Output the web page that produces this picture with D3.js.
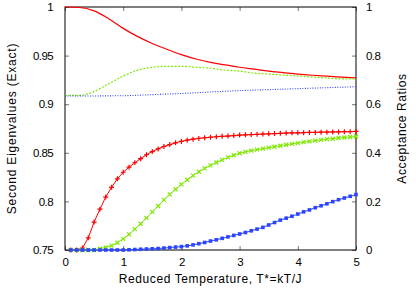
<!DOCTYPE html>
<html>
<head>
<meta charset="utf-8">
<script src="https://cdn.jsdelivr.net/npm/d3@7"></script>
<style>
  body { margin: 0; background: #fff; }
  text { font-family: "Liberation Sans", Arial, sans-serif; fill: #000; }
</style>
</head>
<body>
<div id="chart"></div>
<script>
// Exact second eigenvalues (left axis), sampled every 0.25 in T*
const exactT = [0, 0.25, 0.5, 0.75, 1, 1.25, 1.5, 1.75, 2, 2.25, 2.5, 2.75, 3, 3.25, 3.5, 3.75, 4, 4.25, 4.5, 4.75, 5];
const exactRed = [1.0, 0.9995, 0.996, 0.988, 0.978, 0.9695, 0.9625, 0.9565, 0.951, 0.9465, 0.943, 0.9405, 0.938, 0.936, 0.934, 0.9325, 0.931, 0.9298, 0.9288, 0.9279, 0.927];
const exactGreen = [0.909, 0.909, 0.913, 0.921, 0.929, 0.935, 0.938, 0.939, 0.939, 0.938, 0.937, 0.935, 0.934, 0.932, 0.931, 0.930, 0.929, 0.928, 0.927, 0.926, 0.926];
const exactBlue = [0.9085, 0.9085, 0.9085, 0.9086, 0.9087, 0.9092, 0.9098, 0.9104, 0.911, 0.9118, 0.9126, 0.9133, 0.914, 0.9145, 0.915, 0.9155, 0.916, 0.9165, 0.917, 0.9175, 0.918];

// Acceptance ratios (right axis), sampled every 0.1 in T*
const accT = d3.range(1, 51).map(i => i / 10);
const accRed = [0, 0, 0.008, 0.05, 0.115, 0.168, 0.218, 0.258, 0.293, 0.32,
  0.341, 0.359, 0.376, 0.392, 0.405, 0.416, 0.426, 0.434, 0.441, 0.447,
  0.452, 0.456, 0.459, 0.462, 0.464, 0.466, 0.468, 0.469, 0.471, 0.473,
  0.474, 0.475, 0.476, 0.477, 0.478, 0.479, 0.48, 0.481, 0.482, 0.482,
  0.483, 0.484, 0.484, 0.485, 0.485, 0.486, 0.486, 0.487, 0.487, 0.488];
const accGreen = [0, 0, 0, 0, 0, 0.005, 0.011, 0.018, 0.03, 0.046,
  0.064, 0.086, 0.108, 0.132, 0.157, 0.181, 0.206, 0.229, 0.25, 0.27,
  0.289, 0.306, 0.322, 0.336, 0.348, 0.36, 0.371, 0.381, 0.39, 0.398,
  0.404, 0.409, 0.413, 0.417, 0.421, 0.425, 0.429, 0.433, 0.437, 0.44,
  0.444, 0.447, 0.45, 0.453, 0.456, 0.458, 0.461, 0.463, 0.465, 0.467];
const accBlue = [0, 0, 0, 0, 0, 0, 0, 0, 0, 0,
  0.001, 0.002, 0.003, 0.004, 0.005, 0.006, 0.008, 0.01, 0.012, 0.014,
  0.017, 0.021, 0.026, 0.031, 0.037, 0.042, 0.048, 0.054, 0.06, 0.066,
  0.072, 0.079, 0.086, 0.093, 0.103, 0.113, 0.123, 0.131, 0.139, 0.148,
  0.157, 0.165, 0.174, 0.182, 0.19, 0.199, 0.207, 0.214, 0.221, 0.228];

// Tick labels
const xTicks = [0, 1, 2, 3, 4, 5];
const yTicks = [0.75, 0.8, 0.85, 0.9, 0.95, 1];
const y2Ticks = [0, 0.2, 0.4, 0.6, 0.8, 1];

const red = "#ff0000", green = "#7ee800", blue = "#2a44ff";

// Size and margins
const W = 416, H = 292;
const margin = { top: 7, right: 60, bottom: 42, left: 65 };
const width = W - margin.left - margin.right;
const height = H - margin.top - margin.bottom;

const svg = d3.select("#chart").append("svg")
    .attr("width", W)
    .attr("height", H);

const g = svg.append("g")
    .attr("transform", "translate(" + margin.left + "," + margin.top + ")");

// Scales
const x = d3.scaleLinear().domain([0, 5]).range([0, width]);
const y = d3.scaleLinear().domain([0.75, 1]).range([height, 0]);
const y2 = d3.scaleLinear().domain([0, 1]).range([height, 0]);

// Axes with inward ticks
const tickLen = 4;
function styleAxis(sel) {
    sel.select(".domain").remove();
    sel.selectAll(".tick line").attr("stroke", "#777");
    sel.selectAll(".tick text").style("font-size", "11.5px")
        .style("letter-spacing", "-0.6px")
        .style("font-family", "'Liberation Sans', Arial, sans-serif");
}

g.append("g")
    .attr("transform", "translate(0," + height + ")")
    .call(d3.axisBottom(x).tickValues(xTicks).tickSizeInner(-tickLen).tickSizeOuter(0).tickPadding(8).tickFormat(d3.format("d")))
    .call(styleAxis);

g.append("g")
    .call(d3.axisTop(x).tickValues(xTicks).tickSizeInner(-tickLen).tickSizeOuter(0).tickFormat(""))
    .call(styleAxis);

g.append("g")
    .call(d3.axisLeft(y).tickValues(yTicks).tickSizeInner(-tickLen).tickSizeOuter(0).tickPadding(12).tickFormat(d => d3.format("")(+d.toFixed(2))))
    .call(styleAxis);

g.append("g")
    .attr("transform", "translate(" + width + ",0)")
    .call(d3.axisRight(y2).tickValues(y2Ticks).tickSizeInner(-tickLen).tickSizeOuter(0).tickPadding(10).tickFormat(d => d3.format("")(+d.toFixed(1))))
    .call(styleAxis);

// Frame
g.append("rect")
    .attr("width", width)
    .attr("height", height)
    .attr("fill", "none")
    .attr("stroke", "#000")
    .attr("stroke-width", 1);

// Exact eigenvalue curves
const exactLine = vals => d3.line()
    .x((d, i) => x(exactT[i]))
    .y(d => y(d))
    .curve(d3.curveMonotoneX)(vals);

g.append("path").attr("d", exactLine(exactRed))
    .attr("fill", "none").attr("stroke", red).attr("stroke-width", 1.2);
g.append("path").attr("d", exactLine(exactGreen))
    .attr("fill", "none").attr("stroke", green).attr("stroke-width", 1.2)
    .attr("stroke-dasharray", "2,1.5");
g.append("path").attr("d", exactLine(exactBlue))
    .attr("fill", "none").attr("stroke", blue).attr("stroke-width", 1.1)
    .attr("stroke-dasharray", "1,1.5");

// Acceptance ratio series
const accLine = d3.line()
    .x(d => x(d[0]))
    .y(d => y2(d[1]));

function drawSeries(vals, color, marker) {
    const pts = accT.map((t, i) => [t, vals[i]]);
    g.append("path").attr("d", accLine(pts))
        .attr("fill", "none").attr("stroke", color).attr("stroke-width", 1);
    const m = g.append("g");
    pts.forEach(p => {
        const cx = x(p[0]), cy = y2(p[1]);
        if (marker === "plus") {
            m.append("path").attr("d", `M${cx - 2.5},${cy}H${cx + 2.5}M${cx},${cy - 2.5}V${cy + 2.5}`)
                .attr("stroke", color).attr("stroke-width", 1.2);
        } else if (marker === "cross") {
            m.append("path").attr("d", `M${cx - 2},${cy - 2}L${cx + 2},${cy + 2}M${cx - 2},${cy + 2}L${cx + 2},${cy - 2}`)
                .attr("stroke", color).attr("stroke-width", 1.2);
        } else {
            m.append("rect").attr("x", cx - 1.8).attr("y", cy - 1.8)
                .attr("width", 3.6).attr("height", 3.6).attr("fill", color);
        }
    });
}

drawSeries(accRed, red, "plus");
drawSeries(accGreen, green, "cross");
drawSeries(accBlue, blue, "square");

// Axis labels
svg.append("text")
    .attr("x", margin.left + width / 2)
    .attr("y", 283)
    .attr("text-anchor", "middle")
    .style("font-size", "12px")
    .style("letter-spacing", "0.6px")
    .text("Reduced Temperature, T*=kT/J");

svg.append("text")
    .attr("transform", "translate(16," + (margin.top + height / 2) + ") rotate(-90)")
    .attr("text-anchor", "middle")
    .style("font-size", "12px")
    .style("letter-spacing", "0.8px")
    .text("Second Eigenvalues (Exact)");

svg.append("text")
    .attr("transform", "translate(406," + (margin.top + height / 2) + ") rotate(-90)")
    .attr("text-anchor", "middle")
    .style("font-size", "12px")
    .style("letter-spacing", "0.6px")
    .text("Acceptance Ratios");
</script>
</body>
</html>
